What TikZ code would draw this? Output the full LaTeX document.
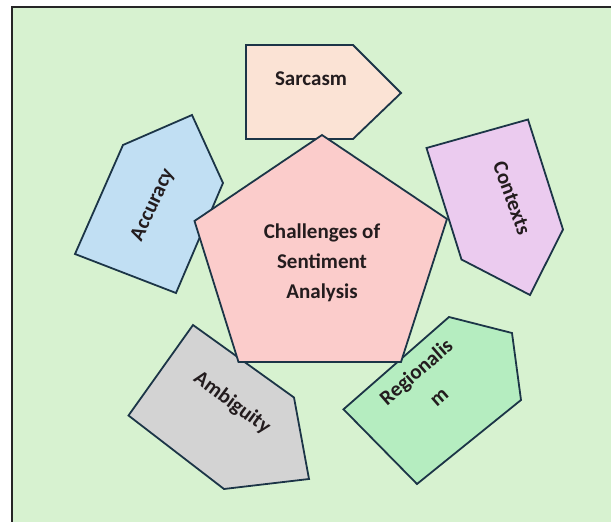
\documentclass[tikz,border=0pt]{standalone}
\usepackage{fontspec}
\setmainfont{Carlito}
\definecolor{bgG}{HTML}{D7F2D0}
\definecolor{outl}{HTML}{1C3547}
\definecolor{cSar}{HTML}{FBE3D5}
\definecolor{cAcc}{HTML}{C1DFF3}
\definecolor{cCon}{HTML}{EBCBEF}
\definecolor{cPen}{HTML}{FBCCCB}
\definecolor{cAmb}{HTML}{D3D3D3}
\definecolor{cReg}{HTML}{B5EDC0}
\definecolor{txt}{HTML}{231C1E}
\tikzset{
  shapebox/.style={draw=outl, line width=1.8pt, line join=miter},
  lbl/.style={font=\bfseries\fontsize{21}{30}\selectfont, text=txt, align=center, inner sep=0pt},
}
\begin{document}
\begin{tikzpicture}[x=1pt,y=-1pt]
\useasboundingbox (0,0) rectangle (611,522);
\fill[white] (0,0) rectangle (611,522);
\fill[bgG] (12,7) rectangle (611,522);
\draw[line width=2pt, black!85] (12,522) -- (12,7) -- (611,7);
% Sarcasm
\path[shapebox, fill=cSar] (246,45) -- (353,45) -- (401,93) -- (353,139) -- (246,139) -- cycle;
\node[lbl] (sar) at (311,79) {Sarcasm};
% Accuracy
\path[shapebox, fill=cAcc] (123,145) -- (192,115) -- (223,183) -- (176,293) -- (75,254) -- cycle;
\node[lbl, rotate=65] (acc) at (153,205) {Accuracy};
% Contexts
\path[shapebox, fill=cCon] (426.5,148) -- (528,119.5) -- (563,229.5) -- (530,295) -- (461.5,259.5) -- cycle;
\node[lbl, rotate=-70] (con) at (512,198) {Contexts};
% Ambiguity
\path[shapebox, fill=cAmb] (193,325) -- (294,397.5) -- (309,479) -- (224,489) -- (128.5,415.5) -- cycle;
\node[lbl, rotate=-36.5] (amb) at (232,403) {Ambiguity};
% Regionalism
\path[shapebox, fill=cReg] (449,317) -- (512,333) -- (521,400) -- (417,484) -- (343.5,409.3) -- cycle;
\node[lbl, rotate=41] (reg1) at (417,373) {Regionalis};
\node[lbl, rotate=41] (reg2) at (440,398) {m};
% Central pentagon
\path[shapebox, fill=cPen] (322,135) -- (447,219) -- (401,362) -- (238.5,362) -- (194.5,221) -- cycle;
\node[lbl] (cen) at (322,262.5) {Challenges of\\Sentiment\\Analysis};
\end{tikzpicture}
\end{document}
